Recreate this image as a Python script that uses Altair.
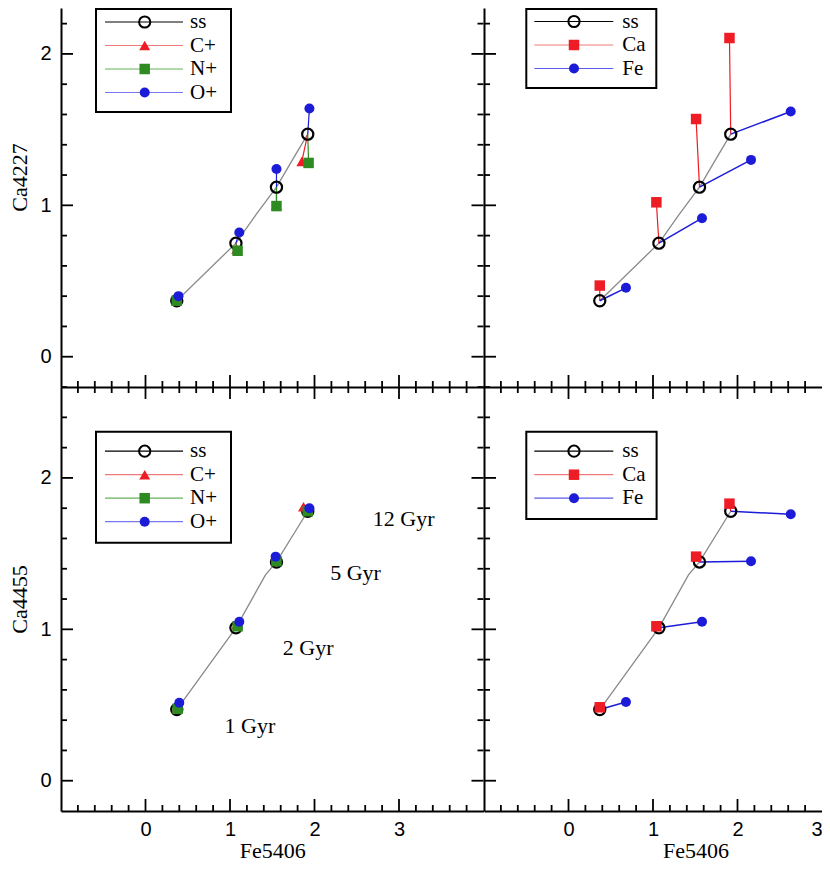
import altair as alt
import pandas as pd

# ---------------- data ----------------
ages = ["1 Gyr", "2 Gyr", "5 Gyr", "12 Gyr"]

# solar-scaled (ss) models
ss_fe = [0.37, 1.07, 1.55, 1.92]
ss_ca4227 = [0.37, 0.75, 1.12, 1.47]
ss_ca4455 = [0.47, 1.01, 1.445, 1.78]

# ss age track (thin grey line)
track_top_fe = [0.37, 1.07, 1.31, 1.55, 1.76, 1.92]
track_top_ca = [0.37, 0.75, 0.94, 1.12, 1.32, 1.47]
track_bot_fe = [0.37, 1.07, 1.42, 1.55, 1.92]
track_bot_ca = [0.47, 1.01, 1.36, 1.445, 1.78]

# Ca4227 panels
cp_fe_4227 = [0.37, 1.08, 1.55, 1.85]
cp_ca_4227 = [0.37, 0.71, 1.00, 1.29]
np_fe_4227 = [0.37, 1.09, 1.55, 1.93]
np_ca_4227 = [0.37, 0.70, 0.995, 1.28]
op_fe_4227 = [0.39, 1.11, 1.55, 1.94]
op_ca_4227 = [0.40, 0.82, 1.24, 1.64]
ca_fe_4227 = [0.37, 1.04, 1.51, 1.905]
ca_ca_4227 = [0.47, 1.02, 1.57, 2.105]
fe_fe_4227 = [0.68, 1.58, 2.16, 2.63]
fe_ca_4227 = [0.455, 0.915, 1.30, 1.62]

# Ca4455 panels
cp_fe_4455 = [0.37, 1.08, 1.55, 1.87]
cp_ca_4455 = [0.48, 1.03, 1.47, 1.81]
np_fe_4455 = [0.38, 1.09, 1.55, 1.92]
np_ca_4455 = [0.475, 1.02, 1.45, 1.78]
op_fe_4455 = [0.40, 1.11, 1.54, 1.94]
op_ca_4455 = [0.515, 1.05, 1.48, 1.80]
ca_fe_4455 = [0.37, 1.04, 1.51, 1.905]
ca_ca_4455 = [0.485, 1.02, 1.48, 1.83]
fe_fe_4455 = [0.68, 1.58, 2.16, 2.63]
fe_ca_4455 = [0.52, 1.05, 1.45, 1.76]

# age annotations (bottom-left panel)
ann_text = ["1 Gyr", "2 Gyr", "5 Gyr", "12 Gyr"]
ann_fe = [0.935, 1.625, 2.185, 2.69]
ann_ca = [0.313, 0.828, 1.325, 1.684]

# axis ticks
x_major = [0, 1, 2, 3]
x_minor = [round(-1 + 0.2 * i, 1) for i in range(26) if i % 5 != 0]
y_major = [0, 1, 2]
y_minor = [round(-0.2 + 0.2 * i, 1) for i in range(15) if i % 5 != 1]

# ---------------- styling ----------------
RED = "#ee1c24"
GREEN = "#2e8b22"
BLUE = "#1c1cd8"
SERIF = "Liberation Serif"
SANS = "Liberation Sans"

PXX = 84.5
PXY = 151.4
X0 = -1.0
XL1 = 4.0
XR1 = 3.0
Y0 = -0.2
H_T = 379
H_B = 424
YT1 = Y0 + H_T / PXY
YB1 = Y0 + H_B / PXY
W_L = (XL1 - X0) * PXX
W_R = (XR1 - X0) * PXX

one = pd.DataFrame({"k": [0]})


def seg_df(fe, ca, ss_ca):
    rows = []
    for i in range(len(fe)):
        rows.append({"age": i, "o": 0, "fe": ss_fe[i], "ca": ss_ca[i]})
        rows.append({"age": i, "o": 1, "fe": fe[i], "ca": ca[i]})
    return pd.DataFrame(rows)


def tick_layers(X, Y, xdom, ydom, W, H, edges):
    out = []
    specs_x = [([v for v in x_major if xdom[0] < v < xdom[1]], 12),
               ([v for v in x_minor if xdom[0] < v < xdom[1]], 6)]
    specs_y = [([v for v in y_major if ydom[0] < v < ydom[1]], 12),
               ([v for v in y_minor if ydom[0] < v < ydom[1]], 6)]
    for vals, L in specs_x:
        df = pd.DataFrame({"v": vals})
        base = alt.Chart(df).mark_rule(color="black", strokeWidth=1.8)
        if "bottom" in edges:
            out.append(base.encode(x=X("v"), y=alt.value(H), y2=alt.value(H - L)))
        if "top" in edges:
            out.append(base.encode(x=X("v"), y=alt.value(0), y2=alt.value(L)))
    for vals, L in specs_y:
        df = pd.DataFrame({"v": vals})
        base = alt.Chart(df).mark_rule(color="black", strokeWidth=1.8)
        if "left" in edges:
            out.append(base.encode(y=Y("v"), x=alt.value(0), x2=alt.value(L)))
        if "right" in edges:
            out.append(base.encode(y=Y("v"), x=alt.value(W), x2=alt.value(W - L)))
    return out


def legend_layers(box, lx, mx, tx, rows):
    out = [alt.Chart(one).mark_rect(fill="white", stroke="black", strokeWidth=2).encode(
        x=alt.value(box[0]), x2=alt.value(box[1]), y=alt.value(box[2]), y2=alt.value(box[3]))]
    for label, lcol, shape, mcol, filled, size, ry in rows:
        out.append(alt.Chart(one).mark_rule(color=lcol, strokeWidth=1.2).encode(
            x=alt.value(lx[0]), x2=alt.value(lx[1]), y=alt.value(ry)))
        if filled:
            mk = alt.Chart(one).mark_point(shape=shape, filled=True, color=mcol, size=size, opacity=1)
        else:
            mk = alt.Chart(one).mark_point(shape=shape, filled=False, color=mcol, size=size,
                                           strokeWidth=2, opacity=1)
        out.append(mk.encode(x=alt.value(mx), y=alt.value(ry)))
        out.append(alt.Chart(one).mark_text(align="left", baseline="middle", font=SERIF,
                                            fontSize=21, color="black").encode(
            x=alt.value(tx), y=alt.value(ry), text=alt.value(label)))
    return out


def panel(ss_ca, track_fe, track_ca, series, xdom, ydom, W, H, xaxis, yaxis, edges, legend, extra=None):
    xs = alt.Scale(domain=list(xdom), nice=False, zero=False)
    ys = alt.Scale(domain=list(ydom), nice=False, zero=False)

    def X(f):
        return alt.X(f + ":Q", scale=xs, axis=xaxis)

    def Y(f):
        return alt.Y(f + ":Q", scale=ys, axis=yaxis)

    layers = []
    tdf = pd.DataFrame({"i": list(range(len(track_fe))), "fe": track_fe, "ca": track_ca})
    layers.append(alt.Chart(tdf).mark_line(color="#8a8a8a", strokeWidth=1.3).encode(
        x=X("fe"), y=Y("ca"), order=alt.Order("i:Q")))
    for fe, ca, col, shape, size, lw in series:
        layers.append(alt.Chart(seg_df(fe, ca, ss_ca)).mark_line(color=col, strokeWidth=lw).encode(
            x=X("fe"), y=Y("ca"), detail="age:N", order=alt.Order("o:Q")))
    sdf = pd.DataFrame({"fe": ss_fe, "ca": ss_ca})
    layers.append(alt.Chart(sdf).mark_point(shape="circle", filled=False, color="black", size=125,
                                            strokeWidth=2.2, opacity=1).encode(x=X("fe"), y=Y("ca")))
    for fe, ca, col, shape, size, lw in series:
        d = pd.DataFrame({"fe": fe, "ca": ca})
        layers.append(alt.Chart(d).mark_point(shape=shape, filled=True, color=col, size=size,
                                              opacity=1).encode(x=X("fe"), y=Y("ca")))
    if extra is not None:
        adf = pd.DataFrame({"t": ann_text, "fe": ann_fe, "ca": ann_ca})
        layers.append(alt.Chart(adf).mark_text(align="left", baseline="alphabetic", font=SERIF,
                                               fontSize=22, color="black").encode(
            x=X("fe"), y=Y("ca"), text="t:N"))
    layers += tick_layers(X, Y, xdom, ydom, W, H, edges)
    layers += legend
    return alt.layer(*layers).properties(width=W, height=H)


elem_rows = lambda y: [
    ("ss", "black", "circle", "black", False, 125, y[0]),
    ("C+", "#f07a7a", "triangle-up", RED, True, 120, y[1]),
    ("N+", "#66b05a", "square", GREEN, True, 110, y[2]),
    ("O+", "#7a7af0", "circle", BLUE, True, 100, y[3]),
]
caf_rows = lambda y: [
    ("ss", "black", "circle", "black", False, 125, y[0]),
    ("Ca", "#f07a7a", "square", RED, True, 110, y[1]),
    ("Fe", "#5a5ae8", "circle", BLUE, True, 100, y[2]),
]

x_noaxis = alt.Axis(labels=False, title=None, orient="bottom")
y_noaxis = alt.Axis(labels=False, title=None, orient="left")

TL = panel(ss_ca4227, track_top_fe, track_top_ca,
           [(cp_fe_4227, cp_ca_4227, RED, "triangle-up", 120, 1.2),
            (np_fe_4227, np_ca_4227, GREEN, "square", 110, 1.2),
            (op_fe_4227, op_ca_4227, BLUE, "circle", 100, 1.2)],
           (X0, XL1), (Y0, YT1), W_L, H_T, x_noaxis,
           alt.Axis(values=y_major, labelPadding=10, title="Ca4227", titlePadding=8, titleY=169,
                    orient="left"),
           ["bottom", "left", "right"],
           legend_layers((35, 170, 1, 104), (44, 122), 83.7, 129, elem_rows([14, 37.5, 61, 84.5])))

TR = panel(ss_ca4227, track_top_fe, track_top_ca,
           [(ca_fe_4227, ca_ca_4227, RED, "square", 110, 1.2),
            (fe_fe_4227, fe_ca_4227, BLUE, "circle", 100, 1.5)],
           (X0, XR1), (Y0, YT1), W_R, H_T, x_noaxis, y_noaxis,
           ["bottom", "left"],
           legend_layers((42.3, 172.3, 1, 80), (50.3, 129.3), 90, 138.3, caf_rows([13.5, 37, 60.5])))

BL = panel(ss_ca4455, track_bot_fe, track_bot_ca,
           [(cp_fe_4455, cp_ca_4455, RED, "triangle-up", 120, 1.2),
            (np_fe_4455, np_ca_4455, GREEN, "square", 110, 1.2),
            (op_fe_4455, op_ca_4455, BLUE, "circle", 100, 1.2)],
           (X0, XL1), (Y0, YB1), W_L, H_B,
           alt.Axis(values=x_major, labelPadding=8, title="Fe5406", titlePadding=1, orient="bottom"),
           alt.Axis(values=y_major, labelPadding=10, title="Ca4455", titlePadding=8, orient="left"),
           ["bottom", "top", "left", "right"],
           legend_layers((35, 170, 44.7, 155.7), (44, 122), 83.7, 129, elem_rows([64.2, 87.7, 111.2, 134.7])),
           extra=True)

BR = panel(ss_ca4455, track_bot_fe, track_bot_ca,
           [(ca_fe_4455, ca_ca_4455, RED, "square", 110, 1.2),
            (fe_fe_4455, fe_ca_4455, BLUE, "circle", 100, 1.5)],
           (X0, XR1), (Y0, YB1), W_R, H_B,
           alt.Axis(values=x_major, labelPadding=8, title="Fe5406", titlePadding=1, titleX=211.5,
                    orient="bottom"),
           y_noaxis,
           ["bottom", "top", "left"],
           legend_layers((42.3, 172.6, 44.7, 132), (50.3, 129.3), 90, 138.3, caf_rows([64.2, 87.7, 111.2])))

chart = alt.concat(TL, TR, BL, BR, columns=2, spacing=0, bounds="flush").properties(
    padding=0,
).configure_view(strokeWidth=0).configure_axis(
    domainColor="black", domainWidth=2, ticks=False, tickSize=0, grid=False,
    labelFont=SANS, labelFontSize=20, labelColor="black",
    titleFont=SERIF, titleFontSize=22, titleFontWeight="normal", titleColor="black",
)

chart.save("out.html", embed_options={"renderer": "svg", "actions": False})
